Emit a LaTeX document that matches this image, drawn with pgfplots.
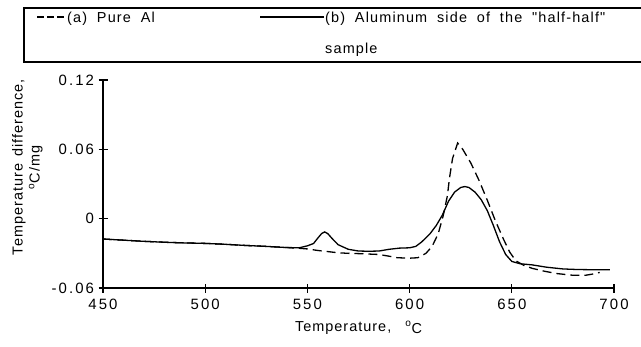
\documentclass[border=0pt]{standalone}
\usepackage{fontspec}
\setmainfont{Liberation Sans}
\newfontfamily\tickfont[LetterSpace=14]{Liberation Sans}
\newfontfamily\labfont[LetterSpace=7, WordSpace=1.4]{Liberation Sans}
\newfontfamily\legfont[LetterSpace=8, WordSpace=1.9]{Liberation Sans}
\usepackage{pgfplots}
\pgfplotsset{compat=1.18}
\begin{document}
\begin{tikzpicture}[x=1bp,y=1bp]
\begin{axis}[
  at={(103bp,58bp)}, anchor=south west,
  width=511bp, height=208bp, scale only axis,
  xmin=450, xmax=700, ymin=-0.06, ymax=0.12,
  axis x line=bottom, axis y line=left,
  axis line style={-, line width=1.3bp},
  tick align=center, major tick length=9bp,
  tick style={line width=1.1bp, black},
  xtick={450,500,550,600,650,700},
  xticklabels={450,500,550,600,650,700},
  ytick={-0.06,0,0.06,0.12},
  yticklabels={-0.06,0,0.06,0.12},
  tick label style={font=\tickfont\fontsize{15}{17}\selectfont},
  xticklabel style={yshift=-3bp},
  yticklabel style={xshift=-1bp},
  xlabel={Temperature, \ \textsuperscript{o}\raisebox{-2.5bp}{C}},
  xlabel style={at={(axis description cs:0.5,-0.19)}, anchor=center, font=\labfont\fontsize{14.5}{16}\selectfont},
  ylabel={Temperature difference,\\[1bp] \textsuperscript{o}C/mg},
  ylabel style={at={(axis description cs:-0.148,0.58)}, anchor=center, align=center, font=\labfont\fontsize{14.5}{16}\selectfont},
  clip=false,
]
\addplot[black, line width=1.3bp, dash pattern=on 9bp off 5bp] coordinates {
(450,-0.0176) (460,-0.0186) (470,-0.0196) (480,-0.0204) (490,-0.0210) (500,-0.0214)
(510,-0.0222) (520,-0.0232) (530,-0.0240) (540,-0.0250) (545,-0.0255) (550,-0.0262)
(555,-0.0275) (560,-0.0285) (565,-0.0295) (570,-0.0300) (576,-0.0303) (585,-0.0310)
(590,-0.0325) (594,-0.0338) (600,-0.0342) (604,-0.0338) (608,-0.0300) (611,-0.0240)
(614,-0.0130) (616.5,0.0030) (618.5,0.0200) (619.5,0.0350) (621,0.0520) (623.5,0.0655)
(626,0.0600) (630,0.0480) (634,0.0330) (638,0.0160) (642,-0.0020) (646,-0.0180)
(649,-0.0290) (652,-0.0365) (656,-0.0405) (660,-0.0430) (666,-0.0455) (672,-0.0475)
(680,-0.0490) (686,-0.0490) (691,-0.0475) (693,-0.0465)
};
\addplot[black, line width=1.3bp] coordinates {
(450,-0.0176) (460,-0.0186) (470,-0.0196) (480,-0.0204) (490,-0.0210) (500,-0.0214)
(510,-0.0222) (520,-0.0232) (530,-0.0240) (540,-0.0250) (546,-0.0252) (550,-0.0235)
(553,-0.0215) (555,-0.0170) (557,-0.0128) (558.5,-0.0115) (560,-0.0130) (562,-0.0170)
(565,-0.0225) (570,-0.0265) (575,-0.0280) (580,-0.0282) (585,-0.0280) (590,-0.0265)
(595,-0.0255) (600,-0.0252) (603,-0.0240) (606,-0.0200) (610,-0.0130) (613,-0.0060)
(616,0.0030) (619,0.0150) (622,0.0230) (625,0.0270) (627,0.0278) (629,0.0270)
(632,0.0230) (635,0.0165) (638,0.0070) (641,-0.0060) (644,-0.0200) (647,-0.0310)
(650,-0.0370) (654,-0.0390) (660,-0.0400) (667,-0.0420) (675,-0.0435) (682,-0.0440)
(690,-0.0442) (698,-0.0442)
};
\end{axis}
% legend box
\draw[line width=1.2bp] (650,338) -- (24,338) -- (24,284) -- (650,284);
\draw[line width=1.3bp, dash pattern=on 7bp off 3bp] (37,329) -- (64,329);
\node[anchor=base west, inner sep=0pt, font=\legfont\fontsize{14.5}{16}\selectfont] at (67,324) {(a) Pure Al};
\draw[line width=1.1bp] (260,329) -- (324,329);
\node[anchor=base west, inner sep=0pt, font=\legfont\fontsize{14.5}{16}\selectfont] at (325,324) {(b) Aluminum side of the "half-half"};
\node[anchor=base west, inner sep=0pt, font=\legfont\fontsize{14.5}{16}\selectfont] at (325,293) {sample};
\pgfresetboundingbox
\path[use as bounding box] (0,0) rectangle (641,346);
\end{tikzpicture}
\end{document}
